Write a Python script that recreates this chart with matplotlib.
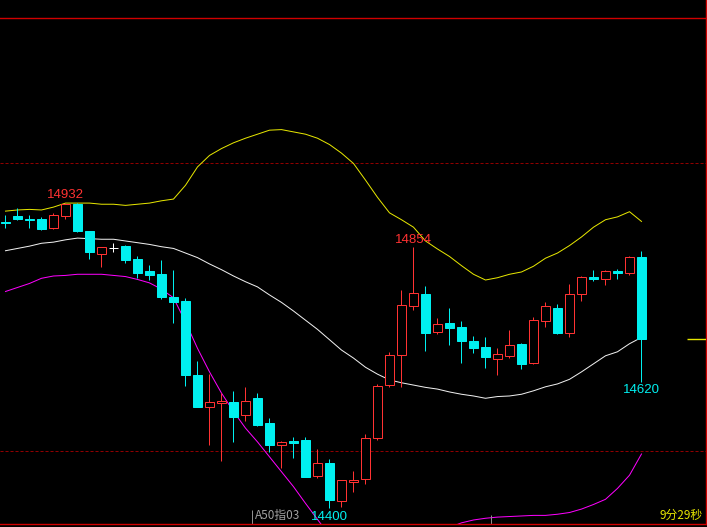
import numpy as np
import matplotlib.pyplot as plt
import matplotlib.transforms as mtransforms

# candle data
opens = [14898, 14908, 14904, 14903, 14888, 14909, 14930, 14882, 14843, 14853,
         14856, 14834, 14813, 14808, 14767, 14760, 14631, 14576, 14582, 14584,
         14561, 14592, 14548, 14510, 14517, 14518, 14456, 14478, 14412, 14445,
         14450, 14521, 14614, 14666, 14751, 14773, 14706, 14722, 14715, 14691,
         14680, 14660, 14665, 14686, 14653, 14725, 14748, 14705, 14772, 14803,
         14799, 14812, 14810, 14837]
highs = [14910, 14922, 14910, 14906, 14914, 14932, 14931, 14883, 14855, 14862,
         14858, 14839, 14823, 14832, 14814, 14766, 14656, 14634, 14601, 14604,
         14611, 14600, 14557, 14517, 14523, 14523, 14503, 14485, 14449, 14464,
         14529, 14616, 14672, 14780, 14854, 14787, 14730, 14749, 14726, 14699,
         14697, 14679, 14710, 14687, 14732, 14759, 14755, 14790, 14804, 14814,
         14814, 14816, 14839, 14847]
lows = [14888, 14902, 14888, 14884, 14886, 14903, 14881, 14834, 14820, 14845,
        14827, 14801, 14797, 14764, 14722, 14612, 14575, 14510, 14482, 14514,
        14551, 14543, 14498, 14470, 14487, 14453, 14452, 14400, 14402, 14428,
        14442, 14518, 14611, 14610, 14744, 14674, 14703, 14683, 14653, 14670,
        14644, 14632, 14662, 14642, 14650, 14716, 14703, 14698, 14761, 14796,
        14789, 14799, 14806, 14620]
closes = [14896, 14904, 14902, 14886, 14910, 14929, 14882, 14846, 14854, 14853,
          14832, 14809, 14806, 14768, 14759, 14632, 14576, 14584, 14586, 14559,
          14586, 14544, 14510, 14515, 14513, 14454, 14478, 14414, 14448, 14448,
          14521, 14612, 14666, 14753, 14774, 14705, 14720, 14714, 14691, 14679,
          14663, 14668, 14683, 14651, 14727, 14751, 14705, 14772, 14802, 14799,
          14812, 14809, 14837, 14695]

# bollinger bands
upper = [14917, 14919, 14920, 14919, 14924, 14931, 14931, 14931, 14929, 14929,
         14927, 14929, 14931, 14935, 14938, 14962, 14994, 15014, 15026, 15036,
         15044, 15051, 15058, 15059, 15055, 15051, 15044, 15033, 15018, 15000,
         14971, 14941, 14914, 14902, 14889, 14865, 14851, 14838, 14822, 14807,
         14797, 14801, 14807, 14811, 14821, 14835, 14844, 14857, 14872, 14889,
         14902, 14907, 14916, 14899]
middle = [14848, 14852, 14856, 14861, 14863, 14867, 14870, 14869, 14868, 14868,
          14865, 14862, 14859, 14855, 14852, 14844, 14836, 14825, 14815, 14804,
          14794, 14785, 14771, 14758, 14743, 14727, 14711, 14693, 14675, 14661,
          14645, 14633, 14623, 14618, 14614, 14610, 14607, 14602, 14598, 14595,
          14591, 14594, 14595, 14598, 14604, 14611, 14616, 14624, 14637, 14651,
          14665, 14672, 14686, 14697]
lower = [14777, 14784, 14791, 14800, 14804, 14805, 14807, 14807, 14807, 14805,
         14803, 14798, 14792, 14781, 14766, 14724, 14678, 14637, 14600, 14568,
         14539, 14515, 14489, 14463, 14437, 14408, 14380, 14352, 14332, 14322,
         14319, 14325, 14332, 14334, 14339, 14355, 14363, 14366, 14374, 14379,
         14382, 14384, 14385, 14386, 14387, 14387, 14389, 14392, 14398, 14406,
         14415, 14434, 14457, 14494]

grid_levels = [15000, 14500]
hi_label = (5, 14932)
hi_label2 = (34, 14854)
lo_label = (27, 14400)
lo_label2 = (53, 14620)

RED = '#ff3232'
CYAN = '#00f0f0'
lw = 0.72  # one pixel

fig = plt.figure(figsize=(7.07, 5.27), dpi=100, facecolor='black')
ax = fig.add_axes([0, 3 / 527, 706 / 707, 506 / 527], facecolor='black')

x = np.arange(len(opens))
o = np.array(opens); c = np.array(closes)
h = np.array(highs); l = np.array(lows)
cols = np.where(c > o, RED, np.where(c < o, CYAN, 'white'))

# wicks
ax.vlines(x, l, h, colors=cols, linewidth=lw, zorder=2)
# bodies
bottom = np.minimum(o, c)
height = np.abs(c - o)
face = np.where(c > o, 'black', cols)
ax.bar(x, height, width=0.833, bottom=bottom, color=face, edgecolor=cols,
       linewidth=lw, zorder=3)

# bands
ax.plot(x, upper, color='#e6e600', linewidth=lw, zorder=1)
ax.plot(x, middle, color='#f0f0f0', linewidth=lw, zorder=1)
ax.plot(x, lower, color='#ff00ff', linewidth=lw, zorder=1)

plt.rcParams['lines.scale_dashes'] = False
for g in grid_levels:
    ax.axhline(g, color='#900000', linewidth=lw, dashes=(2.2, 1.4), zorder=0)

# current price marker
ax.hlines(closes[-1], 56.8, 58.4, color='#e6e600', linewidth=1.0, zorder=4)

num_font = dict(family='Liberation Sans', fontsize=9.5)
ax.annotate(str(hi_label[1]), hi_label, xytext=(0, 1), textcoords='offset points',
            ha='center', va='bottom', color=RED, **num_font)
ax.annotate(str(hi_label2[1]), hi_label2, xytext=(0, 1), textcoords='offset points',
            ha='center', va='bottom', color=RED, **num_font)
ax.annotate(str(lo_label[1]), lo_label, xytext=(0, -2), textcoords='offset points',
            ha='center', va='top', color=CYAN, **num_font)
ax.annotate(str(lo_label2[1]), lo_label2, xytext=(0, -2), textcoords='offset points',
            ha='center', va='top', color=CYAN, **num_font)

# bottom time markers and captions
trans = mtransforms.blended_transform_factory(ax.transData, ax.transAxes)
ax.vlines([20.54], 0, 0.028, colors='#909090', linewidth=lw, transform=trans)
ax.vlines([40.46], 0, 0.018, colors='#909090', linewidth=lw, transform=trans)
ax.text(20.75, 0.004, 'A50指03', transform=trans, color='#a0a0a0', fontsize=8.5,
        family=['Noto Sans CJK SC', 'DejaVu Sans'], ha='left', va='bottom')
ax.text(0.995, 0.004, '9分29秒', transform=ax.transAxes, color='#e6e600',
        fontsize=8.5, family=['Noto Sans CJK SC', 'DejaVu Sans'],
        ha='right', va='bottom')

ax.set_xlim(-5.5 / 12, (706 - 5.5) / 12)
ax.set_ylim(14372, 15253.4)
ax.set_xticks([])
ax.set_yticks([])
for s in ['top', 'bottom', 'right']:
    ax.spines[s].set_color('#d00000')
    ax.spines[s].set_linewidth(1.0)
ax.spines['left'].set_visible(False)

# right border continues above the frame
fig.add_artist(plt.Line2D([706 / 707, 706 / 707], [509 / 527, 1], color='#d00000',
                          linewidth=1.0, transform=fig.transFigure))

fig.savefig('out.png', dpi=100, facecolor='black')
